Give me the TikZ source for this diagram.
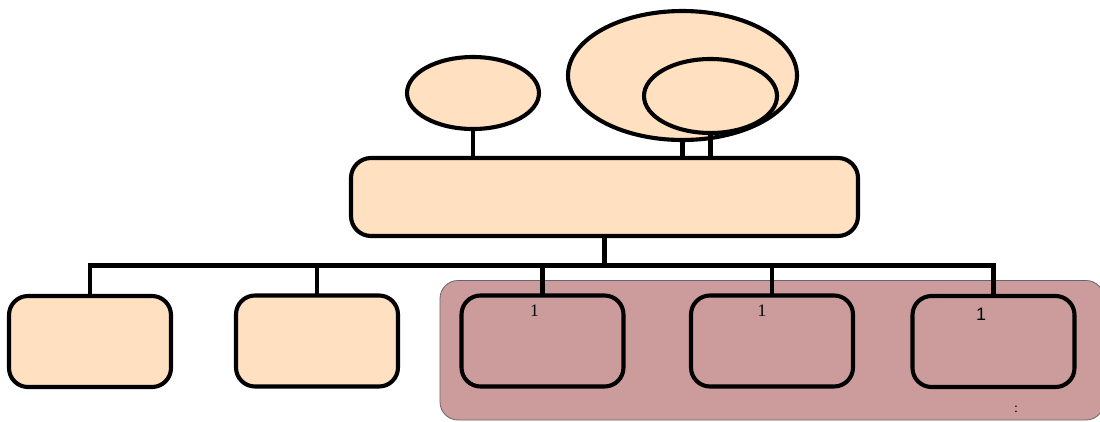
\documentclass[tikz,border=0pt]{standalone}
\usepackage{fontspec}
\setmainfont{Liberation Serif}
\newfontfamily\labsans{Liberation Sans}
\usetikzlibrary{shapes.geometric}
\definecolor{peach}{HTML}{FFE0C1}
\definecolor{mauve}{HTML}{CC9C9C}
\definecolor{rimgray}{HTML}{666666}
\tikzset{
  x=1pt, y=-1pt,
  thick line/.style={line width=4.1pt, black},
  oval/.style={ellipse, draw, thick line, fill=peach, inner sep=0pt},
  topbox/.style={rectangle, rounded corners=20pt, draw, thick line, fill=peach, inner sep=0pt},
  leafbox/.style={rectangle, rounded corners=19pt, draw, thick line, inner sep=0pt, minimum width=162pt, minimum height=91pt},
  peachleaf/.style={leafbox, fill=peach},
  mauveleaf/.style={leafbox, fill=mauve},
  wire/.style={thick line, line cap=rect},
  numlab/.style={font=\fontsize{17.5}{19}\selectfont, inner sep=0pt},
}
\begin{document}
\begin{tikzpicture}
\useasboundingbox (0,0) rectangle (1100,421);
\begin{scope}
\clip (0,0) rectangle (1100,421);
\draw[rimgray, line width=0.8pt, fill=mauve, rounded corners=18pt] (440,280.5) rectangle (1104,420);
\end{scope}
% top ovals
\node[oval, minimum width=132pt, minimum height=72pt] (small) at (473,93) {};
\node[oval, minimum width=229pt, minimum height=129pt] (big) at (682.5,75.5) {};
\node[oval, minimum width=133pt, minimum height=74pt] (inner) at (710.5,96) {};
% main box
\node[topbox, minimum width=507pt, minimum height=78pt] (main) at (604.5,197) {};
% leaves
\node[peachleaf] (b1) at (90,341.5) {};
\node[peachleaf] (b2) at (317,341) {};
\node[mauveleaf] (b3) at (542.5,341) {};
\node[mauveleaf] (b4) at (772,341) {};
\node[mauveleaf] (b5) at (993.5,341.5) {};
% bus
\coordinate (busL) at (91,265.5);
\coordinate (busR) at (993.5,265.5);
\draw[wire] (busL) -- (busR);
\draw[wire] (main.south) -- (main.south |- busL);
\foreach \b in {b1,b2,b3,b4,b5} {
  \draw[wire] (\b.north) -- (\b.north |- busL);
}
% oval connectors
\draw[wire] (small.south) -- (small.south |- main.north);
\draw[wire] (big.south) -- (big.south |- main.north);
\draw[wire] (inner.south) -- (inner.south |- main.north);
% labels
\node[numlab] (l3) at (534.5,311) {1};
\node[numlab] (l4) at (762,310.5) {1};
\node[numlab, font=\labsans\fontsize{18}{20}\selectfont] (l5) at (981,314.5) {1};
\node[numlab, font=\fontsize{14}{16}\selectfont] (colon) at (1016,409) {:};
\end{tikzpicture}
\end{document}
